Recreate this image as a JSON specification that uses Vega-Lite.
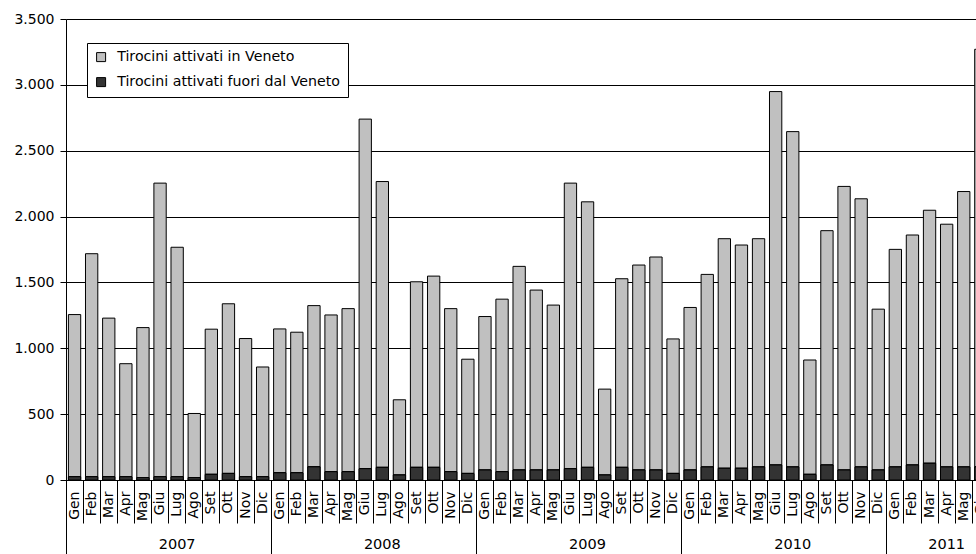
{
  "$schema": "https://vega.github.io/schema/vega-lite/v6.json",
  "width": 910,
  "height": 461,
  "autosize": {"type": "none"},
  "padding": {"left": 66, "top": 19, "right": 0, "bottom": 74},
  "background": "white",
  "config": {
    "font": "DejaVu Sans",
    "view": {"stroke": null},
    "axisY": {
      "title": null,
      "grid": true,
      "gridColor": "black",
      "gridOpacity": 1,
      "gridWidth": 1,
      "domainColor": "black",
      "tickColor": "black",
      "tickSize": 6,
      "labelColor": "black",
      "labelFontSize": 14,
      "labelPadding": 6,
      "labelExpr": "replace(format(datum.value, ','), ',', '.')"
    },
    "legend": {
      "title": null,
      "orient": "none",
      "legendX": 21,
      "legendY": 24,
      "direction": "vertical",
      "fillColor": "white",
      "strokeColor": "black",
      "padding": 7,
      "symbolType": "square",
      "symbolSize": 81,
      "symbolStrokeColor": "black",
      "symbolStrokeWidth": 1,
      "labelFontSize": 14.2,
      "labelColor": "black",
      "labelOffset": 9,
      "rowPadding": 10,
      "labelLimit": 400
    }
  },
  "data": {
    "values": [
      {"mese": "2007-01", "Tirocini attivati in Veneto": 1231, "Tirocini attivati fuori dal Veneto": 25},
      {"mese": "2007-02", "Tirocini attivati in Veneto": 1693, "Tirocini attivati fuori dal Veneto": 25},
      {"mese": "2007-03", "Tirocini attivati in Veneto": 1204, "Tirocini attivati fuori dal Veneto": 25},
      {"mese": "2007-04", "Tirocini attivati in Veneto": 858, "Tirocini attivati fuori dal Veneto": 25},
      {"mese": "2007-05", "Tirocini attivati in Veneto": 1139, "Tirocini attivati fuori dal Veneto": 18},
      {"mese": "2007-06", "Tirocini attivati in Veneto": 2229, "Tirocini attivati fuori dal Veneto": 25},
      {"mese": "2007-07", "Tirocini attivati in Veneto": 1742, "Tirocini attivati fuori dal Veneto": 25},
      {"mese": "2007-08", "Tirocini attivati in Veneto": 487, "Tirocini attivati fuori dal Veneto": 18},
      {"mese": "2007-09", "Tirocini attivati in Veneto": 1102, "Tirocini attivati fuori dal Veneto": 43},
      {"mese": "2007-10", "Tirocini attivati in Veneto": 1288, "Tirocini attivati fuori dal Veneto": 50},
      {"mese": "2007-11", "Tirocini attivati in Veneto": 1049, "Tirocini attivati fuori dal Veneto": 25},
      {"mese": "2007-12", "Tirocini attivati in Veneto": 833, "Tirocini attivati fuori dal Veneto": 25},
      {"mese": "2008-01", "Tirocini attivati in Veneto": 1092, "Tirocini attivati fuori dal Veneto": 55},
      {"mese": "2008-02", "Tirocini attivati in Veneto": 1067, "Tirocini attivati fuori dal Veneto": 55},
      {"mese": "2008-03", "Tirocini attivati in Veneto": 1224, "Tirocini attivati fuori dal Veneto": 100},
      {"mese": "2008-04", "Tirocini attivati in Veneto": 1190, "Tirocini attivati fuori dal Veneto": 63},
      {"mese": "2008-05", "Tirocini attivati in Veneto": 1238, "Tirocini attivati fuori dal Veneto": 63},
      {"mese": "2008-06", "Tirocini attivati in Veneto": 2654, "Tirocini attivati fuori dal Veneto": 86},
      {"mese": "2008-07", "Tirocini attivati in Veneto": 2170, "Tirocini attivati fuori dal Veneto": 96},
      {"mese": "2008-08", "Tirocini attivati in Veneto": 571, "Tirocini attivati fuori dal Veneto": 38},
      {"mese": "2008-09", "Tirocini attivati in Veneto": 1409, "Tirocini attivati fuori dal Veneto": 96},
      {"mese": "2008-10", "Tirocini attivati in Veneto": 1452, "Tirocini attivati fuori dal Veneto": 96},
      {"mese": "2008-11", "Tirocini attivati in Veneto": 1238, "Tirocini attivati fuori dal Veneto": 63},
      {"mese": "2008-12", "Tirocini attivati in Veneto": 867, "Tirocini attivati fuori dal Veneto": 50},
      {"mese": "2009-01", "Tirocini attivati in Veneto": 1165, "Tirocini attivati fuori dal Veneto": 76},
      {"mese": "2009-02", "Tirocini attivati in Veneto": 1310, "Tirocini attivati fuori dal Veneto": 63},
      {"mese": "2009-03", "Tirocini attivati in Veneto": 1546, "Tirocini attivati fuori dal Veneto": 76},
      {"mese": "2009-04", "Tirocini attivati in Veneto": 1366, "Tirocini attivati fuori dal Veneto": 76},
      {"mese": "2009-05", "Tirocini attivati in Veneto": 1252, "Tirocini attivati fuori dal Veneto": 76},
      {"mese": "2009-06", "Tirocini attivati in Veneto": 2168, "Tirocini attivati fuori dal Veneto": 86},
      {"mese": "2009-07", "Tirocini attivati in Veneto": 2016, "Tirocini attivati fuori dal Veneto": 96},
      {"mese": "2009-08", "Tirocini attivati in Veneto": 652, "Tirocini attivati fuori dal Veneto": 38},
      {"mese": "2009-09", "Tirocini attivati in Veneto": 1432, "Tirocini attivati fuori dal Veneto": 96},
      {"mese": "2009-10", "Tirocini attivati in Veneto": 1556, "Tirocini attivati fuori dal Veneto": 76},
      {"mese": "2009-11", "Tirocini attivati in Veneto": 1617, "Tirocini attivati fuori dal Veneto": 76},
      {"mese": "2009-12", "Tirocini attivati in Veneto": 1021, "Tirocini attivati fuori dal Veneto": 50},
      {"mese": "2010-01", "Tirocini attivati in Veneto": 1234, "Tirocini attivati fuori dal Veneto": 76},
      {"mese": "2010-02", "Tirocini attivati in Veneto": 1462, "Tirocini attivati fuori dal Veneto": 99},
      {"mese": "2010-03", "Tirocini attivati in Veneto": 1743, "Tirocini attivati fuori dal Veneto": 89},
      {"mese": "2010-04", "Tirocini attivati in Veneto": 1695, "Tirocini attivati fuori dal Veneto": 89},
      {"mese": "2010-05", "Tirocini attivati in Veneto": 1733, "Tirocini attivati fuori dal Veneto": 99},
      {"mese": "2010-06", "Tirocini attivati in Veneto": 2835, "Tirocini attivati fuori dal Veneto": 114},
      {"mese": "2010-07", "Tirocini attivati in Veneto": 2546, "Tirocini attivati fuori dal Veneto": 99},
      {"mese": "2010-08", "Tirocini attivati in Veneto": 868, "Tirocini attivati fuori dal Veneto": 43},
      {"mese": "2010-09", "Tirocini attivati in Veneto": 1779, "Tirocini attivati fuori dal Veneto": 114},
      {"mese": "2010-10", "Tirocini attivati in Veneto": 2153, "Tirocini attivati fuori dal Veneto": 76},
      {"mese": "2010-11", "Tirocini attivati in Veneto": 2036, "Tirocini attivati fuori dal Veneto": 99},
      {"mese": "2010-12", "Tirocini attivati in Veneto": 1221, "Tirocini attivati fuori dal Veneto": 76},
      {"mese": "2011-01", "Tirocini attivati in Veneto": 1652, "Tirocini attivati fuori dal Veneto": 99},
      {"mese": "2011-02", "Tirocini attivati in Veneto": 1746, "Tirocini attivati fuori dal Veneto": 114},
      {"mese": "2011-03", "Tirocini attivati in Veneto": 1921, "Tirocini attivati fuori dal Veneto": 127},
      {"mese": "2011-04", "Tirocini attivati in Veneto": 1843, "Tirocini attivati fuori dal Veneto": 99},
      {"mese": "2011-05", "Tirocini attivati in Veneto": 2091, "Tirocini attivati fuori dal Veneto": 99},
      {"mese": "2011-06", "Tirocini attivati in Veneto": 3170, "Tirocini attivati fuori dal Veneto": 100}
    ]
  },
  "transform": [
    {"fold": ["Tirocini attivati in Veneto", "Tirocini attivati fuori dal Veneto"], "as": ["serie", "valore"]}
  ],
  "layer": [
    {
      "mark": {"type": "bar", "stroke": "black", "strokeWidth": 1, "width": {"band": 0.72}},
      "encoding": {
        "x": {
          "field": "mese",
          "type": "ordinal",
          "scale": {"range": [0, 923.4], "paddingInner": 0, "paddingOuter": 0},
          "axis": {
            "orient": "bottom",
            "title": null,
            "bandPosition": 0,
            "ticks": true,
            "labelExpr": "['Gen','Feb','Mar','Apr','Mag','Giu','Lug','Ago','Set','Ott','Nov','Dic'][toNumber(substring(datum.value, 5, 7)) - 1]",
            "labelAngle": 270,
            "labelAlign": "right",
            "labelBaseline": "middle",
            "labelOffset": 0,
            "labelPadding": -32,
            "labelOverlap": false,
            "labelFontSize": 14,
            "labelColor": "black",
            "tickSize": 43,
            "tickColor": "black",
            "tickOpacity": 1,
            "domainColor": "black",
            "grid": false
          }
        },
        "y": {
          "field": "valore",
          "type": "quantitative",
          "stack": "zero",
          "scale": {"domain": [0, 3500], "nice": false},
          "axis": {"values": [0, 500, 1000, 1500, 2000, 2500, 3000, 3500]}
        },
        "color": {
          "field": "serie",
          "type": "nominal",
          "scale": {
            "domain": ["Tirocini attivati in Veneto", "Tirocini attivati fuori dal Veneto"],
            "range": ["#c0c0c0", "#333333"]
          }
        },
        "order": {"field": "serie", "sort": "ascending"}
      }
    },
    {
      "transform": [{"filter": "datum.serie == 'Tirocini attivati fuori dal Veneto'"}],
      "mark": {"type": "bar", "stroke": "black", "strokeWidth": 1, "width": {"band": 0.72}},
      "encoding": {
        "x": {
          "field": "mese",
          "type": "ordinal",
          "axis": {
            "orient": "bottom",
            "title": null,
            "bandPosition": 0,
            "domain": false,
            "grid": false,
            "labelExpr": "substring(datum.value, 5, 7) == '07' || datum.value == '2011-04' ? substring(datum.value, 0, 4) : ''",
            "labelAngle": 0,
            "labelAlign": "center",
            "labelBaseline": "top",
            "labelPadding": -17,
            "labelOverlap": false,
            "labelFontSize": 14.5,
            "labelColor": "black",
            "tickSize": 74,
            "tickColor": "black",
            "tickOpacity": {"condition": {"test": "substring(datum.value, 5, 7) == '01'", "value": 1}, "value": 0}
          }
        },
        "y": {"field": "valore", "type": "quantitative"},
        "color": {"field": "serie", "type": "nominal"}
      }
    }
  ],
  "resolve": {"axis": {"x": "independent"}}
}
